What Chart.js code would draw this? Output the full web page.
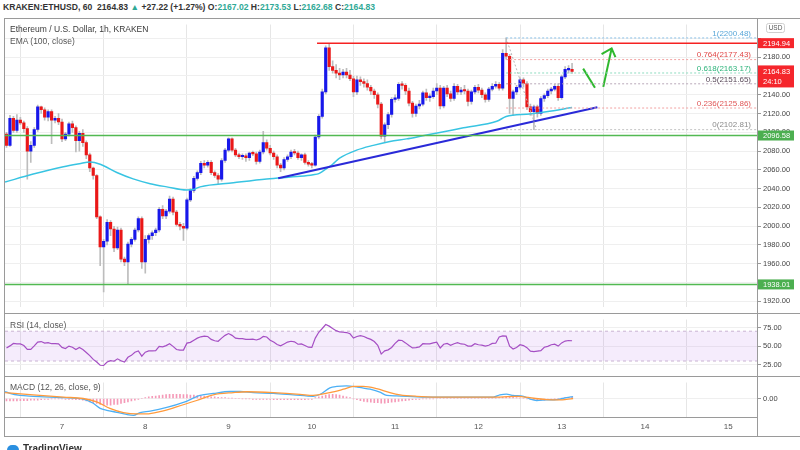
<!DOCTYPE html>
<html><head><meta charset="utf-8">
<script src="https://cdn.jsdelivr.net/npm/chart.js@4.4.1/dist/chart.umd.min.js"></script>
<style>
html,body{margin:0;padding:0;background:#fff}
body{width:800px;height:450px;position:relative;overflow:hidden;font-family:"Liberation Sans",Arial,sans-serif}
canvas{position:absolute;display:block}
.t{position:absolute;white-space:nowrap}
.hl{position:absolute;height:1px;background:#9a9a9a}
.vl{position:absolute;width:1px;background:#9a9a9a}
.g{color:#2fa996}
</style></head><body>
<div class="t" style="left:3px;top:2px;font-size:8.6px;font-weight:bold;color:#333">KRAKEN:ETHUSD, 60&nbsp; 2164.83 <span class="g">▲</span> +27.22 (+1.27%) O:<span class="g">2167.02</span> H:<span class="g">2173.53</span> L:<span class="g">2162.68</span> C:<span class="g">2164.83</span></div>
<canvas id="main" width="795" height="295" style="left:5px;top:18px;width:795px;height:295px"></canvas>
<canvas id="rsi" width="795" height="63" style="left:5px;top:313px;width:795px;height:63px"></canvas>
<canvas id="macd" width="795" height="60" style="left:5px;top:376px;width:795px;height:60px"></canvas>
<div class="t" style="left:10px;top:24px;font-size:8.5px;color:#3a3a3a">Ethereum / U.S. Dollar, 1h, KRAKEN</div>
<div class="t" style="left:10px;top:36px;font-size:8.5px;color:#555">EMA (100, close)</div>
<div class="t" style="left:10px;top:320px;font-size:8.5px;color:#555">RSI (14, close)</div>
<div class="t" style="left:10px;top:382px;font-size:8.5px;color:#555">MACD (12, 26, close, 9)</div>
<div class="hl" style="left:5px;top:18px;width:795px"></div>
<div class="vl" style="left:4px;top:18px;height:419px"></div>
<div class="hl" style="left:5px;top:313px;width:795px"></div>
<div class="hl" style="left:5px;top:376px;width:795px"></div>
<div class="hl" style="left:5px;top:417px;width:752px"></div>
<div class="hl" style="left:5px;top:436px;width:795px"></div>
<div class="vl" style="left:757px;top:18px;height:419px"></div>
<div class="t" style="left:7px;top:443px;font-size:10px;font-weight:bold;color:#333"><span style="display:inline-block;width:12px;height:8px;background:#2a8fe0;border-radius:5px 5px 2px 2px;vertical-align:top;margin:2px 4px 0 0"></span>TradingView</div>
<script>
// ---------- DATA ----------
const firstHour = -16; // first candle: day 6, 08:00 (hours relative to day 7 00:00)
const opens = [
2098,2086,2115,2102,2113,2110,2104,2080,2086,2103,2127,2124,2116,2122,2113,2115,
2111,2093,2098,2109,2105,2091,2099,2089,2076,2062,2054,2010,1978,1984,2004,1997,
1977,1996,1965,1962,1981,1986,1996,2008,1962,1986,1990,1993,1996,2018,2011,2016,
2029,2015,2002,2000,1998,2028,2038,2051,2057,2067,2065,2068,2057,2054,2050,2070,
2081,2093,2081,2076,2074,2075,2073,2078,2077,2069,2079,2089,2083,2078,2074,2065,
2062,2071,2074,2079,2078,2073,2076,2068,2066,2065,2095,2117,2143,2190,2170,2166,
2163,2161,2164,2161,2157,2143,2156,2154,2152,2148,2144,2140,2130,2096,2108,2119,
2135,2136,2151,2150,2144,2131,2120,2128,2130,2142,2137,2138,2144,2147,2128,2147,
2141,2136,2149,2143,2145,2144,2133,2143,2148,2145,2140,2135,2146,2149,2151,2147,
2184,2181,2136,2143,2148,2156,2152,2127,2122,2127,2120,2136,2139,2144,2146,2149,
2137,2159,2166.5,2167.02];
const highs = [
2100,2118,2117,2119,2116,2112,2106,2090,2105,2129,2128,2126,2124,2124,2117,2120,
2114,2100,2111,2112,2107,2101,2103,2091,2078,2063,2055,2011,1986,2007,2006,2000,
1999,1998,1967,1983,1988,1998,2010,2010,1990,1992,1995,1998,2020,2022,2018,2032,
2031,2017,2004,2003,2030,2040,2053,2059,2069,2070,2070,2070,2059,2056,2072,2083,
2094,2094,2083,2078,2077,2077,2079,2080,2079,2081,2101,2092,2086,2080,2076,2067,
2073,2076,2081,2082,2080,2077,2078,2070,2068,2097,2119,2146,2192,2194,2176,2172,
2168,2167,2168,2166,2160,2160,2159,2157,2156,2150,2146,2142,2132,2110,2121,2137,
2140,2153,2154,2152,2147,2133,2130,2134,2144,2146,2141,2147,2152,2150,2149,2150,
2144,2152,2151,2148,2150,2146,2145,2150,2151,2147,2142,2148,2152,2154,2153,2188,
2200.48,2183,2145,2150,2158,2158,2154,2130,2129,2129,2138,2141,2146,2148,2151,2152,
2161,2170,2171,2173.53];
const lows = [
2084,2085,2100,2100,2108,2100,2050,2068,2084,2101,2120,2113,2112,2088,2110,2108,
2090,2091,2096,2100,2079,2080,2085,2072,2058,2050,2008,1958,1930,1980,1990,1973,
1975,1962,1958,1938,1978,1984,1994,1955,1950,1982,1986,1990,1994,2008,2008,2014,
2012,2000,1996,1985,1996,2026,2036,2049,2055,2062,2063,2055,2052,2045,2048,2068,
2079,2079,2074,2072,2071,2069,2070,2075,2066,2067,2077,2081,2076,2071,2062,2058,
2060,2069,2072,2076,2071,2070,2066,2064,2062,2064,2093,2115,2141,2166,2163,2158,
2156,2158,2158,2155,2138,2140,2150,2148,2145,2140,2136,2126,2093,2090,2104,2116,
2132,2134,2146,2140,2128,2116,2117,2125,2128,2134,2133,2136,2140,2125,2126,2138,
2133,2134,2140,2140,2141,2128,2130,2141,2142,2137,2132,2133,2144,2147,2145,2145,
2178,2120,2118,2140,2146,2148,2124,2118,2102.81,2116,2118,2133,2137,2141,2144,2134,
2135,2157,2163,2162.68];
const closes = [
2086,2115,2102,2113,2110,2104,2080,2086,2103,2127,2124,2116,2122,2113,2115,2111,
2093,2098,2109,2105,2091,2099,2089,2076,2062,2054,2010,1978,1984,2004,1997,1977,
1996,1965,1962,1981,1986,1996,2008,1962,1986,1990,1993,1996,2018,2011,2016,2029,
2015,2002,2000,1998,2028,2038,2051,2057,2067,2065,2068,2057,2054,2050,2070,2081,
2093,2081,2076,2074,2075,2073,2078,2077,2069,2079,2089,2083,2078,2074,2065,2062,
2071,2074,2079,2078,2073,2076,2068,2066,2065,2095,2117,2143,2190,2170,2166,2163,
2161,2164,2161,2157,2143,2156,2154,2152,2148,2144,2140,2130,2096,2108,2119,2135,
2136,2151,2150,2144,2131,2120,2128,2130,2142,2137,2138,2144,2147,2128,2147,2141,
2136,2149,2143,2145,2144,2133,2143,2148,2145,2140,2135,2146,2149,2151,2147,2184,
2181,2136,2143,2148,2156,2152,2127,2122,2127,2120,2136,2139,2144,2146,2149,2137,
2159,2167,2167.02,2164.83];

const emaHours  = [-16.4,-8.3,0.4,5,8.1,11,15.8,20.5,25.4,30.2,35.9,37.8,39.8,49.4,59,68.6,72.4,74,75.3,76.5,78,80,84.9,89.7,94.5,99.3,104,108.9,115.7,125.3,128,134.8,139.6,147];
const emaValues = [2047,2055.5,2063.3,2066.5,2068.4,2066,2057.2,2050.4,2045.3,2041.9,2038.5,2039,2041.9,2046.3,2050.4,2053.1,2054.8,2056,2058.9,2062,2066,2072.5,2081,2086.1,2090.2,2093,2096.3,2099.7,2104.8,2111.7,2116.8,2119.5,2121.9,2126.3];

const rsiValues = [
47.5,50.3,53.6,52.9,52.9,50.7,45.7,45.7,50.4,55.4,56.1,54,54.6,53.2,53.2,52.9,
48.2,46.8,50,48.5,45.4,48.2,45.4,41.5,37.2,32.2,28.6,24.3,24,28.6,30.4,29.7,
32.9,30.4,28.6,35,37.6,41.8,43.6,36.5,41.8,43.6,43.6,44,49.6,48.9,50.7,53.2,
49.6,45.4,44.6,44.6,54,55,57.9,60.7,62.5,63.3,62.9,59,57.2,56.5,60.7,64.4,
66.8,64.4,60.7,60,60,59,59,59.3,58.2,59.7,62.9,62.2,57.9,55.4,52.2,50.4,
52.9,55.4,56.5,55.7,52.5,52.9,50.7,48.5,48.2,60.7,68.6,73.6,79,76.8,73.6,70.7,
69,68.6,68.2,66.5,60.7,62.9,64,62.9,60.7,59,56.1,51.1,39.3,43.6,45,48.2,
53.6,57.9,57.5,54.3,50.7,47.5,47.9,48.9,53.2,52.9,52.9,54.3,55.4,47.5,52.5,53.6,
51.1,53.2,54.6,52.9,52.5,50,50,53.2,51.8,51.4,50,51.1,53.6,53.9,62.2,63.6,
63.3,50,46.1,48.2,51.8,50.7,47.9,43.2,42.5,43.2,44,48.5,49.6,51.8,52.5,50,
54.3,56.8,57.5,57.2];

const macdHours  = [-16.4,-15,-12.1,-8.3,-3.5,0.4,6.1,9,11,12.9,15.8,18.6,20.6,22.5,25.4,30.2,35,39.8,43.6,48.4,51.3,55.1,60.9,66.7,72.4,74.4,77.2,79.2,82,84.9,88.8,91.6,93.6,96.4,102.2,107,116.6,124.3,126.2,128.1,130,133,134.9,136.8,139.7,142.6,145.4,147.3];
const macdValues = [8.3,6,3.6,2.6,1.6,1,-0.7,-5.7,-11.7,-14,-16.4,-19,-20,-16.7,-15,-10.7,-4.7,3.6,6,8.3,8.3,7,6,4.3,2.6,5,12.6,14.3,15,13.7,11,7.6,3.6,3,2,1.6,1.6,1.6,4.3,5.3,3.6,2.6,-0.7,-2.4,-1.7,-1.4,1,2.3];
const signalHours  = [-16.4,-8.3,0.4,6.1,10,13.8,17.7,21.5,24.4,28.2,33,38.8,43.6,49.4,53.2,60.9,68.6,72.4,77.2,81.1,84,86.8,90.7,94.5,97.4,102.2,111.6,121.2,126.2,131,136,139.7,143.6,145.4,147.3];
const signalValues = [7,4.3,1.6,0,-4,-11.7,-16.7,-18.4,-18.4,-15.7,-10,-2.4,4.3,7,8,7,5,3.6,7,11,14.3,14.3,11.7,7,4.3,2.6,1.6,1.6,1.6,2.6,0.3,-1.4,-1.7,-1,0];
const histValues = [
-3,-3,-3,-3,-2.5,-2.5,-2.5,-2,-2,-2,
-1.5,-1,-1,-0.5,-0.5,-0.5,-0.5,-1,-1,-1,-1.5,-1.5,-2,
-3,-4,-5,-6,-7,-8,-8,-8,-7,-7,-6,-5,-4,-3,
-2,-1,0,1,
2,2.5,3,3.5,4,4.5,5,5,5,5,4.5,4.5,4,4,3.5,3,3,2.5,2,2,1.5,1,1,
0.5,0.5,0,0,-0.5,-0.5,-0.5,-1,-1,-1,-1,-1,-1,-1.5,-1.5,-1.5,-1.5,-1.5,-1.5,-1.5,-1.5,-1.5,-1.5,-1,-1,
1,2,3,4,4.5,5,4.5,4,3,2,1,
-0.5,-1.5,-2.5,-3.5,-4,-4.5,-5,-5,-5.5,-5.5,-5,-4.5,-4,-3.5,-3,-2.5,-2,
-1.5,-1,-1,-0.5,-0.5,-0.5,-0.5,0,0,0,
0,0,0,0,0,0,0,0,0,0,0,0.5,0.5,0.5,0.5,1,
1.5,2,2,1.5,1,0.5,0,-0.5,-1,-1.5,-2,-2,-2,-1.5,-1,-0.5,0,0.5,1,1.5,2];

// axis ticks / labels
const dayTicks  = [0,24,48,72,96,120,144,168,192];
const dayLabels = ['7','8','9','10','11','12','13','14','15'];
const priceTicks = [1920,1940,1960,1980,2000,2020,2040,2060,2080,2100,2120,2140,2160,2180,2200];
const rsiTicks = [25,50,75];
const macdTicks = [0];

// horizontal levels & drawings (data space)
const resistance = 2194.94, resistanceFromHour = 73.5;
const supportUpper = 2096.58, supportLower = 1938.01;
const trendHours = [62.3,154.3], trendPrices = [2051.1,2126.7];
const arrowDownHours = [150.2,153.6], arrowDownPrices = [2167.8,2147.4];
const arrowUpHours = [156,158.4], arrowUpPrices = [2148.4,2189.3];
const arrowHeadHours = [155.5,158.4,159.5], arrowHeadPrices = [2183.2,2189.3,2180.1];
const fibLevels = ['1','0.764','0.618','0.5','0.236','0'];
const fibPrices = [2200.48,2177.43,2163.17,2151.65,2125.86,2102.81];
const fibFromHour = 128, fibDiagHours = [128,136.8];
const fibLineColors = ['#8cc2e8','#f2a2a2','#8edcc0','#b9a8b9','#f2a2a2','#c2c2c2'];
const fibTextColors = ['#5aa7d8','#e04848','#2db37a','#5a4a5a','#e05555','#8a8a8a'];
const tagValues = [2194.94,2164.83,2096.58,1938.01];
const tagColors = ['#f5262c','#f5262c','#4caf50','#4caf50'];
const tagSub = ['','24:10','',''];
const rsiBands = [70,30];

// ---------- CHARTS ----------
const F = '"Liberation Sans", Arial, sans-serif';
Chart.defaults.font.family = F;
const X_MIN = -16.43, X_MAX = 200.3;
const hours = opens.map((_, i) => firstHour + i);
const pts = (xs, ys) => xs.map((x, i) => ({x, y: ys[i]}));

function xScale(showLabels) {
  return {
    type: 'linear', min: X_MIN, max: X_MAX, offset: false,
    afterBuildTicks: s => { s.ticks = dayTicks.map(v => ({value: v})); },
    grid: {color: '#e6e6e6', drawTicks: false},
    border: {display: false},
    ticks: {display: showLabels, padding: 5, color: '#555', font: {size: 8}, maxRotation: 0, autoSkip: false,
      callback: v => { const i = dayTicks.indexOf(v); return i >= 0 ? dayLabels[i] : ''; }},
    afterFit: s => { s.height = showLabels ? 19 : 0; }
  };
}
function yScale(min, max, ticks, hide) {
  return {
    position: 'right', min, max,
    afterBuildTicks: s => { s.ticks = ticks.map(v => ({value: v})); },
    afterFit: s => { s.width = 43; },
    grid: {color: '#efefef', tickColor: '#999', tickLength: 4},
    border: {display: true, color: '#9a9a9a'},
    ticks: {color: '#444', font: {size: 7.5}, padding: 2, autoSkip: false,
      callback: v => (hide && hide.includes(v)) ? '' : v.toFixed(2)}
  };
}
function lineDs(data, color, width, dash, extra) {
  return Object.assign({type: 'line', data, borderColor: color, borderWidth: width, borderDash: dash || [],
    pointRadius: 0, fill: false, order: 0, tension: 0}, extra || {});
}
const common = (scales, plugins) => ({
  type: 'bar',
  options: {responsive: false, animation: false, events: [], layout: {padding: 0},
    plugins: {legend: {display: false}, tooltip: {enabled: false}}, scales},
  plugins: plugins || []
});

// main price pane
const overlay = {
  id: 'overlay',
  afterDatasetsDraw(chart) {
    const {ctx, chartArea: ca, scales: {y}} = chart;
    ctx.save();
    ctx.font = '8px ' + F; ctx.textAlign = 'right'; ctx.textBaseline = 'bottom';
    fibPrices.forEach((p, i) => {
      ctx.fillStyle = fibTextColors[i];
      ctx.fillText(fibLevels[i] + '(' + p.toFixed(2) + ')', ca.right - 6, y.getPixelForValue(p) - 0.5);
    });
    ctx.restore();
  },
  afterDraw(chart) {
    const {ctx, chartArea: ca, scales: {y}} = chart;
    ctx.save();
    ctx.font = '7.5px ' + F; ctx.textBaseline = 'middle'; ctx.textAlign = 'left';
    tagValues.forEach((v, i) => {
      const py = y.getPixelForValue(v);
      const sub = tagSub[i];
      const h = sub ? 22 : 10, top = sub ? py - 6 : py - 5;
      ctx.fillStyle = tagColors[i];
      ctx.fillRect(ca.right + 1, top, 36, h);
      ctx.fillStyle = '#fff';
      ctx.fillText(v.toFixed(2), ca.right + 6, py + 0.5);
      if (sub) ctx.fillText(sub, ca.right + 6, py + 11);
    });
    // currency badge
    ctx.strokeStyle = '#cfcfcf'; ctx.lineWidth = 1;
    ctx.beginPath(); ctx.roundRect(ca.right + 9.5, 5.5, 18, 9, 2); ctx.stroke();
    ctx.fillStyle = '#555'; ctx.font = '6.5px ' + F; ctx.textAlign = 'center';
    ctx.fillText('USD', ca.right + 18.5, 10.5);
    ctx.restore();
  }
};

const mainCfg = common({x: xScale(false), y: yScale(1914.5, 2214.8, priceTicks, [2200])}, [overlay]);
mainCfg.data = {datasets: [
  {type: 'bar', data: hours.map((h, i) => ({x: h, y: [lows[i], highs[i]]})), backgroundColor: '#bdbdbd',
   barThickness: 1, grouped: false, order: 3},
  {type: 'bar', data: hours.map((h, i) => ({x: h, y: [opens[i], closes[i]]})),
   backgroundColor: hours.map((h, i) => closes[i] >= opens[i] ? '#1818ea' : '#ea1818'),
   barThickness: 2.5, minBarLength: 1.5, grouped: false, order: 2},
  lineDs(pts(emaHours, emaValues), '#38c4e2', 1.5, null, {cubicInterpolationMode: 'monotone', order: 1}),
  lineDs(pts([X_MIN, X_MAX], [supportUpper, supportUpper]), '#52b952', 1.5),
  lineDs(pts([X_MIN, X_MAX], [supportLower, supportLower]), '#52b952', 1.5),
  lineDs(pts([resistanceFromHour, X_MAX], [resistance, resistance]), '#f52222', 1.5),
  ...fibPrices.map((p, i) => lineDs(pts([fibFromHour, X_MAX], [p, p]), fibLineColors[i], 1, [2, 2])),
  lineDs(pts(fibDiagHours, [fibPrices[0], fibPrices[5]]), '#b5b5b5', 1, [2, 2]),
  lineDs(pts(trendHours, trendPrices), '#2a2ad8', 2.2),
  lineDs(pts(arrowDownHours, arrowDownPrices), '#2fb82f', 2),
  lineDs(pts(arrowUpHours, arrowUpPrices), '#2fb82f', 2),
  lineDs(pts(arrowHeadHours, arrowHeadPrices), '#2fb82f', 2)
]};
new Chart(document.getElementById('main'), mainCfg);

// RSI pane
const rsiCfg = common({x: xScale(false), y: yScale(18.6, 85.7, rsiTicks)});
rsiCfg.data = {datasets: [
  lineDs(pts([X_MIN, X_MAX], [rsiBands[0], rsiBands[0]]), '#c9b3d2', 1, [3, 3], {order: 2}),
  lineDs(pts([X_MIN, X_MAX], [rsiBands[1], rsiBands[1]]), '#c9b3d2', 1, [3, 3],
    {order: 2, fill: '-1', backgroundColor: 'rgba(170, 100, 230, 0.12)'}),
  lineDs(hours.map((h, i) => ({x: h, y: rsiValues[i]})), '#a54fc4', 1.2, null, {order: 0})
]};
new Chart(document.getElementById('rsi'), rsiCfg);

// MACD pane
const macdCfg = common({x: xScale(true), y: yScale(-22, 19, macdTicks)});
macdCfg.data = {datasets: [
  {type: 'bar', data: hours.map((h, i) => ({x: h, y: histValues[i]})), backgroundColor: '#f59ab8',
   barThickness: 1, grouped: false, order: 3},
  lineDs(pts(macdHours, macdValues), '#4db0f5', 1.3, null, {cubicInterpolationMode: 'monotone', order: 1}),
  lineDs(pts(signalHours, signalValues), '#ff9a3c', 1.3, null, {cubicInterpolationMode: 'monotone', order: 0})
]};
new Chart(document.getElementById('macd'), macdCfg);
</script>
</body></html>
